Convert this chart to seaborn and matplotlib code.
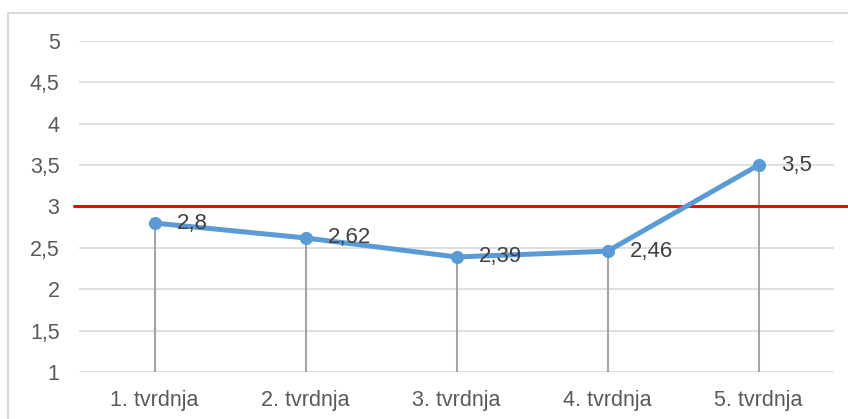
import matplotlib
matplotlib.use("Agg")
import matplotlib.pyplot as plt
import seaborn as sns
import pandas as pd
import numpy as np
from matplotlib.patches import Rectangle
from matplotlib.ticker import FuncFormatter

# chart data
categories = ["1. tvrdnja", "2. tvrdnja", "3. tvrdnja", "4. tvrdnja", "5. tvrdnja"]
values = [2.8, 2.62, 2.39, 2.46, 3.5]
threshold = 3
y_ticks = [1, 1.5, 2, 2.5, 3, 3.5, 4, 4.5, 5]

df = pd.DataFrame({"tvrdnja": categories, "ocjena": values, "pos": range(len(categories))})

sns.set_style("white")
plt.rcParams["font.family"] = ["Liberation Sans", "DejaVu Sans"]

fig = plt.figure(figsize=(8.48, 4.19), dpi=100)
ax = fig.add_axes([79 / 848, 1 - 372 / 419, (834 - 79) / 848, (372 - 41) / 419])

# outer chart border (Excel style)
fig.patches.append(Rectangle((8 / 848, -0.1), 1.0, (419 - 13) / 419 + 0.1,
                             transform=fig.transFigure, fill=False,
                             edgecolor="#D9D9D9", linewidth=1.5))

ax.set_ylim(1, 5)
ax.set_xlim(-0.5, len(categories) - 0.5)
ax.set_yticks(y_ticks)
ax.yaxis.set_major_formatter(FuncFormatter(lambda v, p: f"{v:g}".replace(".", ",")))
ax.grid(axis="y", color="#D9D9D9", linewidth=1.2)
ax.set_axisbelow(True)
for s in ax.spines.values():
    s.set_visible(False)

# drop lines
ax.vlines(df["pos"], 1, df["ocjena"], color="#A5A5A5", linewidth=1.5, zorder=2)

# threshold line
ax.axhline(threshold, xmin=-0.006, xmax=1.03, color="#FF0000", linewidth=2.2,
           clip_on=False, zorder=3)

sns.lineplot(data=df, x="pos", y="ocjena", ax=ax, color="#5B9BD5", linewidth=3.6,
             marker="o", markersize=9.5, markeredgewidth=0, zorder=4)

for p, v in zip(df["pos"], df["ocjena"]):
    ax.annotate(f"{v:g}".replace(".", ","), (p, v), xytext=(16, 0),
                textcoords="offset points", ha="left", va="center",
                fontsize=16, color="#404040", zorder=5)

ax.set_xticks(df["pos"])
ax.set_xticklabels(categories)
ax.tick_params(axis="x", length=0, pad=13, labelsize=15.5, labelcolor="#595959")
ax.tick_params(axis="y", length=0, pad=14, labelsize=15.5, labelcolor="#595959")
ax.set_xlabel("")
ax.set_ylabel("")

fig.savefig("out.png", dpi=100)
